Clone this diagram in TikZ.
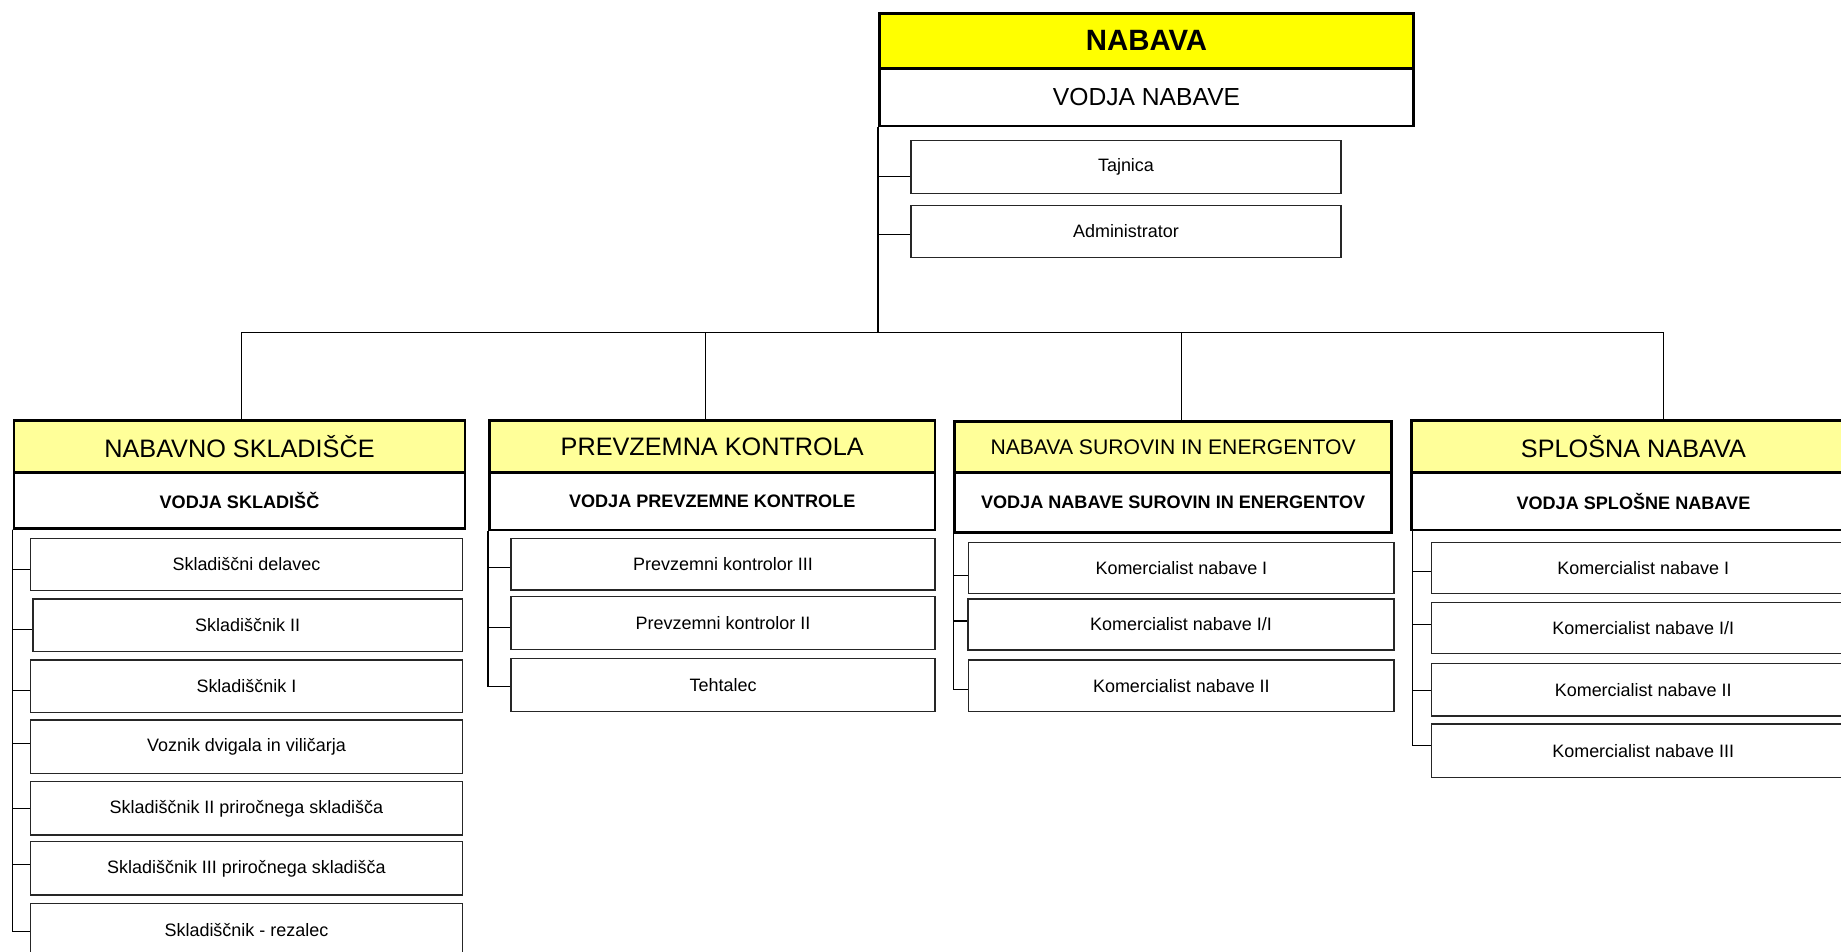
\documentclass[tikz,border=0pt]{standalone}
\usepackage{fontspec}
\setmainfont{Liberation Sans}
\definecolor{topyellow}{HTML}{FFFF00}
\definecolor{deptyellow}{HTML}{FFFF99}
\tikzset{
  box/.style={rectangle, inner sep=0pt, align=center, anchor=center},
  topbox/.style={box, draw=black, line width=2.3pt, fill=topyellow, font=\fontsize{25}{29}\selectfont\bfseries},
  topsub/.style={box, draw=black, line width=2.3pt, fill=white, font=\fontsize{21}{25}\selectfont},
  depthead/.style={box, draw=black, line width=2.3pt, fill=deptyellow, font=\fontsize{21.5}{25}\selectfont},
  deptsub/.style={box, draw=black, line width=2.3pt, fill=white, font=\fontsize{15.4}{18}\selectfont\bfseries},
  childbox/.style={box, draw=black!85, line width=1.2pt, fill=white, font=\fontsize{15.3}{18}\selectfont},
  link/.style={draw=black, line width=1.0pt}
}
\begin{document}
\begin{tikzpicture}[x=1pt, y=-1pt]
\useasboundingbox (0,0) rectangle (1568,810);
\fill[white] (0,0) rectangle (1568,810);

% top
\node[topbox, minimum width=455, minimum height=46.8] (nab) at (976.5,34.8) {NABAVA};
\node[topsub, minimum width=455, minimum height=49.1] (vn) at (976.5,82.75) {VODJA NABAVE};
\node[childbox, minimum width=366, minimum height=44.9] (taj) at (959,142.25) {Tajnica};
\node[childbox, minimum width=366, minimum height=44] (adm) at (959,197.2) {Administrator};

% departments
\node[depthead, minimum width=384, minimum height=44.3] (d1h) at (204,380.45) {NABAVNO SKLADIŠČE};
\node[deptsub, minimum width=384, minimum height=47.4] (d1s) at (204,426.3) {VODJA SKLADIŠČ};
\node[depthead, minimum width=379.6, minimum height=44.3] (d2h) at (606.6,380.45) {PREVZEMNA KONTROLA};
\node[deptsub, minimum width=379.6, minimum height=48.8] (d2s) at (606.6,427) {VODJA PREVZEMNE KONTROLE};
\node[depthead, minimum width=372.5, minimum height=44.3, font=\fontsize{18}{21}\selectfont] (d3h) at (999.15,381.2) {NABAVA SUROVIN IN ENERGENTOV};
\node[deptsub, minimum width=372.5, minimum height=51.1] (d3s) at (999.15,428.15) {VODJA NABAVE SUROVIN IN ENERGENTOV};
\node[depthead, minimum width=377.6, minimum height=44.3] (d4h) at (1391.2,380.45) {SPLOŠNA NABAVA};
\node[deptsub, minimum width=377.6, minimum height=48.8] (d4s) at (1391.2,427) {VODJA SPLOŠNE NABAVE};

% column 1
\node[childbox, minimum width=367.8, minimum height=44.6] (c11) at (209.9,480.8) {Skladiščni delavec};
\node[childbox, minimum width=365.8, minimum height=44.9] (c12) at (210.9,532.65) {Skladiščnik II};
\node[childbox, minimum width=367.8, minimum height=45] (c13) at (209.9,584.5) {Skladiščnik I};
\node[childbox, minimum width=367.8, minimum height=45.4] (c14) at (209.9,636) {Voznik dvigala in viličarja};
\node[childbox, minimum width=367.8, minimum height=45.4] (c15) at (209.9,688.5) {Skladiščnik II priročnega skladišča};
\node[childbox, minimum width=367.8, minimum height=45.4] (c16) at (209.9,739.6) {Skladiščnik III priročnega skladišča};
\node[childbox, minimum width=367.8, minimum height=45.5] (c17) at (209.9,792.25) {Skladiščnik - rezalec};

% column 2
\node[childbox, minimum width=361.1, minimum height=44.1] (c21) at (615.85,480.55) {Prevzemni kontrolor III};
\node[childbox, minimum width=361.1, minimum height=44.9] (c22) at (615.85,530.65) {Prevzemni kontrolor II};
\node[childbox, minimum width=361.1, minimum height=45.4] (c23) at (615.85,583.5) {Tehtalec};

% column 3
\node[childbox, minimum width=362.4, minimum height=43.5] (c31) at (1006.2,483.65) {Komercialist nabave I};
\node[childbox, minimum width=363.1, minimum height=43.5] (c32) at (1005.85,531.95) {Komercialist nabave I/I};
\node[childbox, minimum width=362.4, minimum height=44] (c33) at (1006.2,584.2) {Komercialist nabave II};

% column 4
\node[childbox, minimum width=361, minimum height=43.5] (c41) at (1399.5,483.65) {Komercialist nabave I};
\node[childbox, minimum width=361, minimum height=43.5] (c42) at (1399.5,534.75) {Komercialist nabave I/I};
\node[childbox, minimum width=361, minimum height=44.9] (c43) at (1399.5,587.45) {Komercialist nabave II};
\node[childbox, minimum width=361, minimum height=45.4] (c44) at (1399.5,639.4) {Komercialist nabave III};

% bus
\coordinate (b1) at (206,283);
\coordinate (b2) at (601,283);
\coordinate (b3) at (1006,283);
\coordinate (b4) at (1417,283);
\draw[link] (vn.south west) -- (vn.south west |- b1);
\draw[link] (b1) -- (b4);
\draw[link] (b1) -- (b1 |- d1h.north);
\draw[link] (b2) -- (b2 |- d2h.north);
\draw[link] (b3) -- (b3 |- d3h.north);
\draw[link] (b4) -- (b4 |- d4h.north);

% top staff
\draw[link] (vn.south west) |- ([yshift=-8pt]taj.west);
\draw[link] (vn.south west) |- ([yshift=-2.4pt]adm.west);

% column connectors
\foreach \c/\s in {c11/-4.2, c12/-3.4, c13/-3.5, c14/2.8, c15/0, c16/3.4, c17/-1.3}
  \draw[link] (d1s.south west) |- ([yshift=\s pt]\c.west);
\foreach \c/\s in {c21/-3, c22/-4, c23/-1.4}
  \draw[link] (d2s.south west) |- ([yshift=\s pt]\c.west);
\foreach \c/\s in {c31/-6.6, c32/3, c33/-2.9}
  \draw[link] (d3s.south west) |- ([yshift=\s pt]\c.west);
\foreach \c/\s in {c41/-2.8, c42/3, c43/-0.9, c44/4.8}
  \draw[link] ([xshift=2pt]d4s.south west) |- ([yshift=\s pt]\c.west);
\end{tikzpicture}
\end{document}
